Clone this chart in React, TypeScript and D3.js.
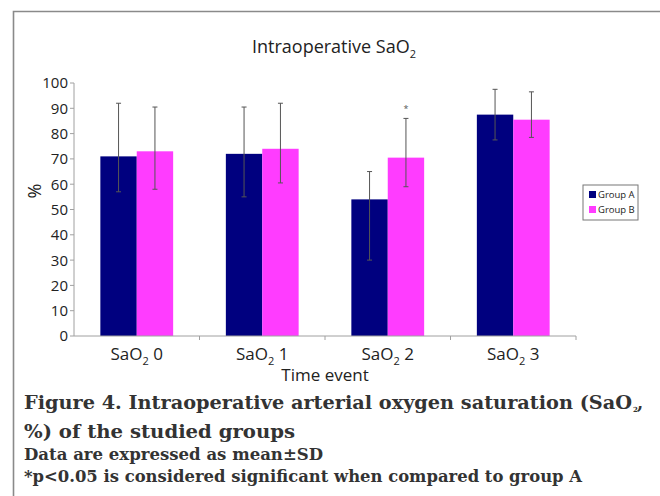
import * as d3 from 'd3';

const categories = ['0', '1', '2', '3'];
const groups = ['Group A', 'Group B'];
const meanA = [71, 72, 54, 87.5];
const meanB = [73, 74, 70.5, 85.5];
const upperA = [92, 90.5, 65, 97.5];
const lowerA = [57, 55, 30, 77.5];
const upperB = [90.5, 92, 86, 96.5];
const lowerB = [58, 60.5, 59, 78.5];
const yTicks = [0, 10, 20, 30, 40, 50, 60, 70, 80, 90, 100];
const starAt = { cat: '2', group: 'Group B', value: 90.5 };

const colors = { 'Group A': '#00007f', 'Group B': '#ff3cff' };
const sans = '"Open Sans", sans-serif';
const serif = '"DejaVu Serif", serif';

const App = () => {
  const width = 660;
  const height = 496;
  const left = 74;
  const right = 576;
  const top = 83;
  const bottom = 336;

  const y = d3.scaleLinear().domain([0, 100]).range([bottom, top]);
  const x0 = d3.scaleBand().domain(categories).range([left, right]);
  const bw = x0.bandwidth();
  const gw = bw * 0.58;
  const x1 = d3.scaleBand().domain(groups).range([(bw - gw) / 2, (bw + gw) / 2]);

  const series = [
    { name: 'Group A', mean: meanA, up: upperA, lo: lowerA },
    { name: 'Group B', mean: meanB, up: upperB, lo: lowerB }
  ];

  return (
    <svg
      width={width}
      height={height}
      style={{ position: 'absolute', left: 0, top: 0, background: '#fff' }}
    >
      {/* frame */}
      <path d={`M13.5,${height} V11.5 H${width}`} fill="none" stroke="#8a8a8a" strokeWidth={1.6} />

      {/* title */}
      <text x={334} y={53} textAnchor="middle" fontFamily={sans} fontSize={18} fill="#222">
        Intraoperative SaO<tspan dy={5} fontSize={11}>2</tspan>
      </text>

      {/* y axis */}
      <line x1={left} x2={left} y1={top} y2={bottom} stroke="#a0a0a0" strokeWidth={1} />
      {yTicks.map(t => (
        <g key={t}>
          <line x1={left - 4} x2={left} y1={y(t)} y2={y(t)} stroke="#a0a0a0" />
          <text x={left - 6} y={y(t)} dy="0.36em" textAnchor="end" fontFamily={sans} fontSize={15} fill="#222">
            {t}
          </text>
        </g>
      ))}
      <text
        transform="translate(35,191) rotate(-90)"
        textAnchor="middle"
        dy="0.36em"
        fontFamily={sans}
        fontSize={18}
        fill="#222"
      >
        %
      </text>

      {/* bars */}
      {series.map(s =>
        categories.map((c, i) => (
          <rect
            key={s.name + c}
            x={(x0(c) ?? 0) + (x1(s.name) ?? 0)}
            y={y(s.mean[i])}
            width={x1.bandwidth()}
            height={bottom - y(s.mean[i])}
            fill={colors[s.name]}
          />
        ))
      )}

      {/* error bars */}
      {series.map(s =>
        categories.map((c, i) => {
          const cx = (x0(c) ?? 0) + (x1(s.name) ?? 0) + x1.bandwidth() / 2;
          return (
            <g key={'e' + s.name + c} stroke="#555" strokeWidth={1}>
              <line x1={cx} x2={cx} y1={y(s.up[i])} y2={y(s.lo[i])} />
              <line x1={cx - 2.5} x2={cx + 2.5} y1={y(s.up[i])} y2={y(s.up[i])} />
              <line x1={cx - 2.5} x2={cx + 2.5} y1={y(s.lo[i])} y2={y(s.lo[i])} />
            </g>
          );
        })
      )}
      <text
        x={(x0(starAt.cat) ?? 0) + (x1(starAt.group) ?? 0) + x1.bandwidth() / 2}
        y={y(starAt.value) + 5}
        textAnchor="middle"
        fontFamily={sans}
        fontSize={9}
        fill="#555"
      >
        *
      </text>

      {/* x axis */}
      <line x1={left} x2={right} y1={bottom} y2={bottom} stroke="#a0a0a0" />
      {categories.map((c, i) =>
        i > 0 ? (
          <line key={'t' + c} x1={x0(c)} x2={x0(c)} y1={bottom} y2={bottom + 4} stroke="#a0a0a0" />
        ) : null
      )}
      <line x1={right} x2={right} y1={bottom} y2={bottom + 4} stroke="#a0a0a0" />
      {categories.map(c => (
        <text
          key={'l' + c}
          x={(x0(c) ?? 0) + bw / 2}
          y={360}
          textAnchor="middle"
          fontFamily={sans}
          fontSize={17}
          fill="#222"
        >
          SaO<tspan dy={5} fontSize={11}>2</tspan>
          <tspan dy={-5}> {c}</tspan>
        </text>
      ))}
      <text x={325} y={381} textAnchor="middle" fontFamily={sans} fontSize={17} fill="#222">
        Time event
      </text>

      {/* legend */}
      <rect x={583} y={185} width={55} height={35} fill="#fff" stroke="#777" strokeWidth={1} />
      {groups.map((g, i) => (
        <g key={g} transform={`translate(589,${198 + i * 15})`}>
          <rect x={0} y={-7} width={7} height={7} fill={colors[g]} />
          <text x={9} y={0} fontFamily={sans} fontSize={9.5} fill="#222">
            {g}
          </text>
        </g>
      ))}

      {/* caption */}
      <g fontFamily={serif} fontWeight="bold" fill="#333">
        <text x={24} y={409} fontSize={18} textLength={608} lengthAdjust="spacingAndGlyphs">
          Figure 4. Intraoperative arterial oxygen saturation (SaO
        </text>
        <text x={633} y={412} fontSize={7}>2</text>
        <text x={637} y={409} fontSize={18}>,</text>
        <text x={24} y={438} fontSize={18} textLength={271} lengthAdjust="spacingAndGlyphs">
          %) of the studied groups
        </text>
        <text x={24} y={460} fontSize={16} textLength={299} lengthAdjust="spacingAndGlyphs">
          Data are expressed as mean±SD
        </text>
        <text x={24} y={482} fontSize={16} textLength={558} lengthAdjust="spacingAndGlyphs">
          *p&lt;0.05 is considered significant when compared to group A
        </text>
      </g>
    </svg>
  );
};

export default App;
